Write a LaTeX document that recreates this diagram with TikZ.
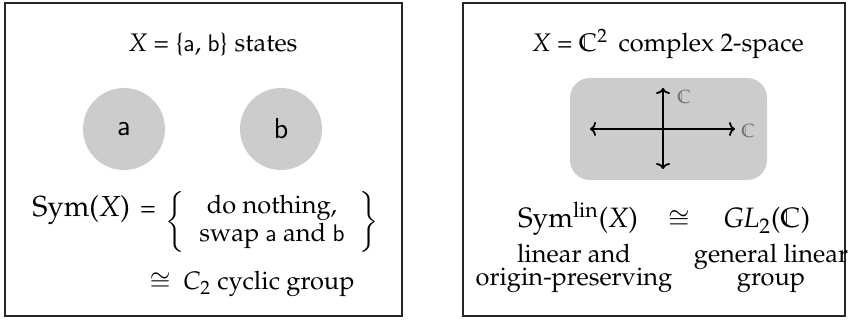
\documentclass[tikz,border=0pt]{standalone}
\usepackage[T1]{fontenc}
\usepackage{amsmath,amssymb}
\usepackage{mathpazo}
\usetikzlibrary{arrows.meta}
\newcommand{\cc}{\ensuremath{\mathbb{C}}}
\newcommand{\st}[1]{{\fontencoding{OT1}\fontfamily{cmss}\selectfont #1}}
\tikzset{
  panel/.style={draw=black!85, line width=0.8pt},
  state/.style={circle, fill=black!20, minimum size=41pt, inner sep=0pt, font=\fontsize{15}{17}\selectfont},
  txt/.style={inner sep=0pt, anchor=base, font=\fontsize{12.7}{14}\selectfont},
  axis/.style={line width=0.9pt, {To[length=3pt,width=7pt]}-{To[length=3pt,width=7pt]}},
  axlab/.style={inner sep=0pt, text=black!55, font=\fontsize{9.5}{11}\selectfont},
}
\begin{document}
\begin{tikzpicture}[x=0.5pt,y=-0.5pt]
\useasboundingbox (0,0) rectangle (851,320);
% left panel
\draw[panel] (5,3) rectangle (402,316);
\node[txt] (titleL) at (213,52) {\textit{X} = \{\st{a}, \st{b}\} states};
\node[state] (a) at (124,129) {\st{a}};
\node[state] (b) at (281,129) {\st{b}};
\node[txt, anchor=base west, font=\fontsize{14.5}{16}\selectfont] (symL) at (32,217) {Sym(\textit{X})};
\node[txt, font=\fontsize{13}{15}\selectfont] (eqL) at (148,217) {=};
\node[inner sep=0pt, font=\fontsize{12.7}{14}\selectfont] (setL) at (272,222) {$\left\{\;\;\begin{array}{@{}c@{}}\text{do nothing,}\\[0pt] \text{swap \st{a} and \st{b}}\end{array}\;\;\right\}$};
\node[txt] (c2) at (252,290) {$\cong$\enspace \textit{C}$_{\text{2}}$ cyclic group};
% right panel
\draw[panel] (463,3) rectangle (845,316);
\node[txt] (titleR) at (668,52) {\textit{X} = $\mathbb{C}^{\text{2}}$\, complex 2-space};
\node[fill=black!20, rounded corners=10pt, minimum width=98.5pt, minimum height=51pt, inner sep=0pt] (plane) at (668.5,129) {};
\coordinate (hl) at (590,129);
\coordinate (hr) at (735,129);
\coordinate (vt) at (663,88);
\coordinate (vb) at (663,169);
\draw[axis] (hl) -- (hr);
\draw[axis] (vb) -- (vt);
\node[axlab, anchor=west] (c1) at (677,97) {\cc};
\node[axlab, anchor=west] (c2lab) at (741,131) {\cc};
\node[txt, font=\fontsize{14}{16}\selectfont] (symR) at (578,228) {Sym$^{\text{lin}}$(\textit{X})};
\node[txt, font=\fontsize{13}{15}\selectfont] (congR) at (679,228) {$\cong$};
\node[txt, font=\fontsize{14}{16}\selectfont] (glR) at (767,228) {\textit{GL}$_{\text{2}}$(\cc)};
\node[txt, anchor=north, align=center, font=\fontsize{12.7}{11.5}\selectfont] (descL) at (574,244) {linear and\\origin-preserving};
\node[txt, anchor=north, align=center, font=\fontsize{12.7}{11.5}\selectfont] (descR) at (771,244) {general linear\\group};
\end{tikzpicture}
\end{document}
